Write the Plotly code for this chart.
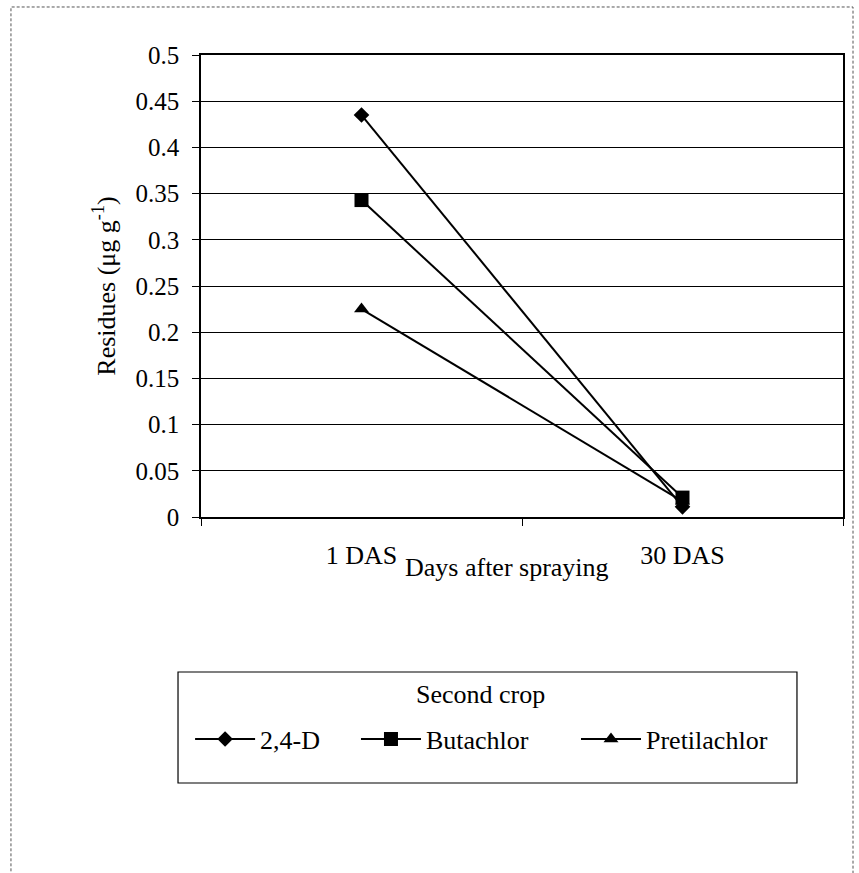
import plotly.graph_objects as go

categories = ["1 DAS", "30 DAS"]
series_names = ["2,4-D", "Butachlor", "Pretilachlor"]
d24 = [0.435, 0.011]
butachlor = [0.343, 0.021]
pretilachlor = [0.225, 0.017]
y_ticks = [0, 0.05, 0.1, 0.15, 0.2, 0.25, 0.3, 0.35, 0.4, 0.45, 0.5]

FONT = "Liberation Serif, Times New Roman, serif"
FS = 25
FS2 = 26

fig = go.Figure()
symbols = ["diamond", "square", "triangle-up"]
sizes = [12, 14, 13]
legend_ids = ["legend", "legend2", "legend3"]
for name, vals, sym, sz, lg in zip(series_names, [d24, butachlor, pretilachlor], symbols, sizes, legend_ids):
    fig.add_trace(go.Scatter(
        x=categories, y=vals, name=name, mode="lines+markers",
        line=dict(color="black", width=2),
        marker=dict(symbol=sym, size=sz, color="black"),
        legend=lg,
    ))

def legend_at(x):
    return dict(
        orientation="h", x=x, xanchor="left", y=-0.43, yanchor="top",
        bgcolor="rgba(0,0,0,0)", borderwidth=0,
        font=dict(size=FS2, family=FONT, color="black"), itemwidth=60,
    )

fig.update_layout(
    width=859, height=873,
    margin=dict(l=201, r=16, t=55, b=356),
    paper_bgcolor="white", plot_bgcolor="white",
    font=dict(family=FONT, size=FS, color="black"),
    showlegend=True,
    legend=legend_at(-0.017),
    legend2=legend_at(0.2414),
    legend3=legend_at(0.5841),
    xaxis=dict(
        type="category", range=[-0.5, 1.5],
        showgrid=False, showline=True, linecolor="black", linewidth=1.5,
        mirror=True, ticks="outside", ticklen=7, tickcolor="black",
        tickson="boundaries", ticklabelstandoff=14,
        tickfont=dict(size=FS2),
    ),
    yaxis=dict(
        range=[0, 0.5], tickvals=y_ticks,
        showgrid=True, gridcolor="black", gridwidth=1,
        showline=True, linecolor="black", linewidth=1.5, mirror=True,
        ticks="outside", ticklen=7, tickcolor="black",
        ticklabelstandoff=8,
        title=dict(text="Residues (μg g<sup>-1</sup>)", standoff=12, font=dict(size=FS2)),
        tickfont=dict(size=FS), zeroline=False,
    ),
)

fig.add_annotation(
    text="Days after spraying", xref="paper", yref="paper",
    x=0.4766, y=-0.110, xanchor="center", yanchor="middle",
    showarrow=False, font=dict(size=FS2),
)
fig.add_annotation(
    text="Second crop", xref="paper", yref="paper",
    x=0.4346, y=-0.385, xanchor="center", yanchor="middle",
    showarrow=False, font=dict(size=FS2),
)

# legend box
fig.add_shape(type="rect", xref="paper", yref="paper",
              x0=-0.0358, x1=0.9283, y0=-0.5758, y1=-0.3355,
              line=dict(color="black", width=1.2))
# outer frame
fig.add_shape(type="rect", xref="paper", yref="paper",
              x0=-0.296, x1=1.0156, y0=-0.80, y1=1.1039,
              line=dict(color="#555", width=1, dash="3px,2px"))

fig.write_html("out.html")
